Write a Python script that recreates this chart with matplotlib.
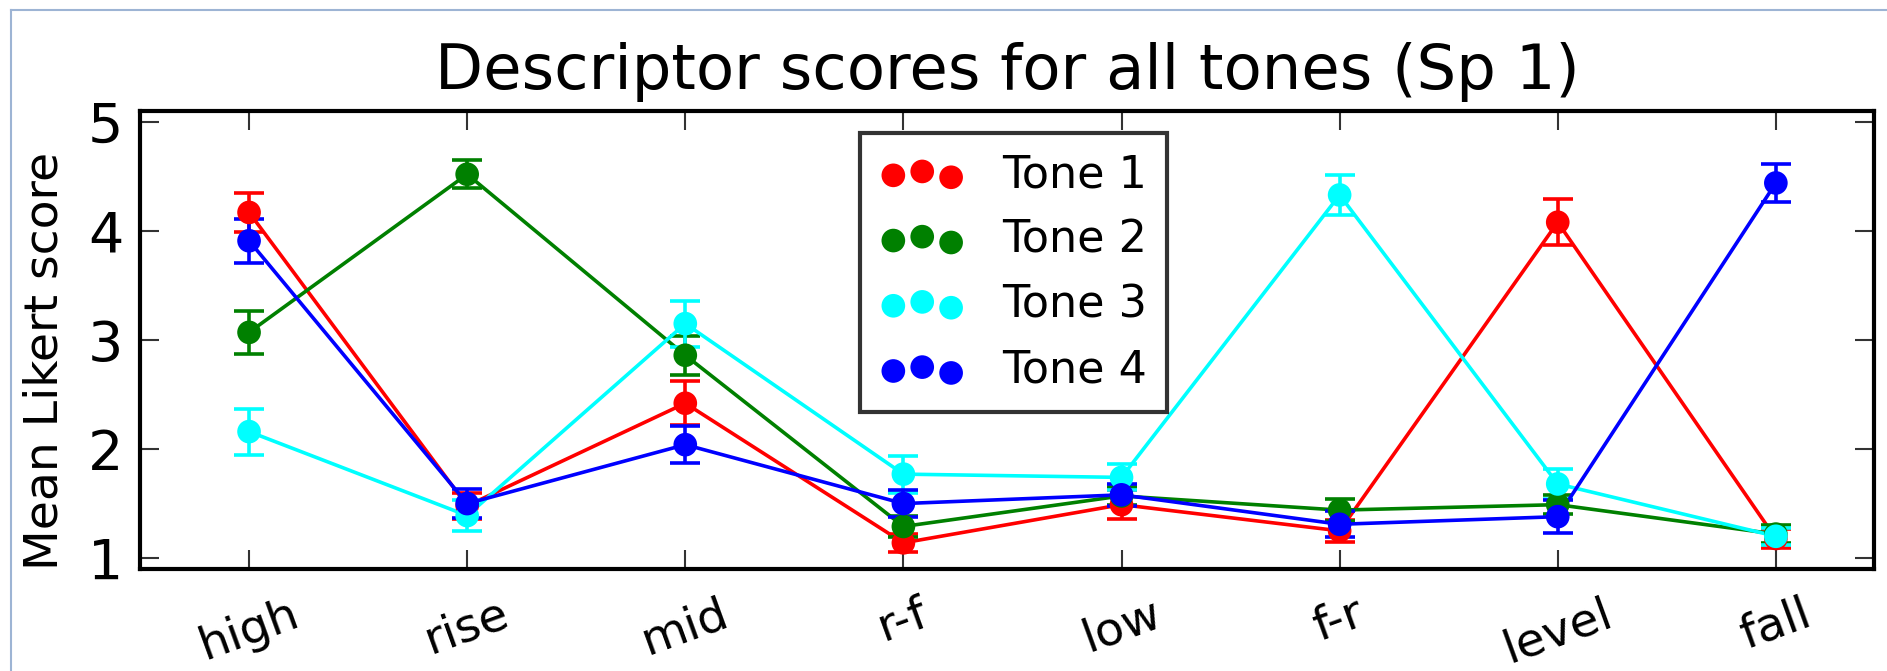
import matplotlib
matplotlib.use("Agg")
import matplotlib.pyplot as plt
from matplotlib.lines import Line2D
import numpy as np

categories = ["high", "rise", "mid", "r-f", "low", "f-r", "level", "fall"]
tone_labels = ["Tone 1", "Tone 2", "Tone 3", "Tone 4"]
tone_colors = ["#ff0000", "#008000", "#00ffff", "#0000ff"]

tone1 = [4.17, 1.48, 2.42, 1.14, 1.49, 1.25, 4.08, 1.18]
tone2 = [3.07, 4.52, 2.86, 1.29, 1.57, 1.44, 1.49, 1.22]
tone3 = [2.16, 1.39, 3.15, 1.77, 1.74, 4.33, 1.68, 1.20]
tone4 = [3.91, 1.50, 2.04, 1.50, 1.58, 1.31, 1.38, 4.44]

err1 = [0.18, 0.12, 0.20, 0.08, 0.13, 0.10, 0.21, 0.09]
err2 = [0.20, 0.13, 0.18, 0.10, 0.08, 0.10, 0.09, 0.08]
err3 = [0.21, 0.14, 0.21, 0.17, 0.12, 0.18, 0.14, 0.08]
err4 = [0.20, 0.13, 0.17, 0.12, 0.10, 0.12, 0.15, 0.17]

values = [tone1, tone2, tone3, tone4]
errors = [err1, err2, err3, err4]

W, H = 1887, 671
fig = plt.figure(figsize=(W / 100, H / 100), dpi=100)
ax = fig.add_axes([140 / W, 1 - 569 / H, (1874 - 140) / W, (569 - 111) / H])

x = np.arange(len(categories))
for vals, errs, col, lab in zip(values, errors, tone_colors, tone_labels):
    ax.plot(x, vals, color=col, lw=2.6, zorder=2)
    ax.errorbar(x, vals, yerr=errs, fmt="none", ecolor=col, elinewidth=2.6,
                capsize=11, capthick=2.6, zorder=2)
    ax.scatter(x, vals, s=290, color=col, edgecolors="none", label=lab, zorder=3)

ax.set_xlim(-0.5, 7.45)
ax.set_ylim(0.9, 5.1)
ax.set_yticks([1, 2, 3, 4, 5])
ax.set_xticks(x)
ax.set_xticklabels(categories, rotation=20, ha="center", fontsize=34)
ax.tick_params(axis="y", labelsize=40, pad=12)
ax.tick_params(axis="x", pad=16)
ax.tick_params(direction="in", length=14, width=1.5, top=True, right=True,
               color="#333333")
for sp in ax.spines.values():
    sp.set_linewidth(3)
    sp.set_color("black")

ax.set_ylabel("Mean Likert score", fontsize=34)
ax.yaxis.set_label_coords(-0.042, 0.455)
ax.set_title("Descriptor scores for all tones (Sp 1)", fontsize=45, pad=16)

leg = ax.legend(loc="upper left",
                bbox_to_anchor=((860 - 140) / (1874 - 140), 1 - (133 - 111) / (569 - 111)),
                borderaxespad=0,
                scatterpoints=3, fontsize=32, frameon=True, fancybox=False,
                borderpad=0.45, labelspacing=0.5, handletextpad=0.85,
                handlelength=1.9)
leg.get_frame().set_edgecolor("black")
leg.get_frame().set_linewidth(3)

# thin light-blue frame around the image (top and left)
fig.add_artist(Line2D([11 / W, 11 / W], [0, 1 - 10 / H], transform=fig.transFigure,
                      color="#9db4d4", lw=1.5))
fig.add_artist(Line2D([11 / W, 1], [1 - 10 / H, 1 - 10 / H], transform=fig.transFigure,
                      color="#9db4d4", lw=1.5))

fig.savefig("out.png", dpi=100)
